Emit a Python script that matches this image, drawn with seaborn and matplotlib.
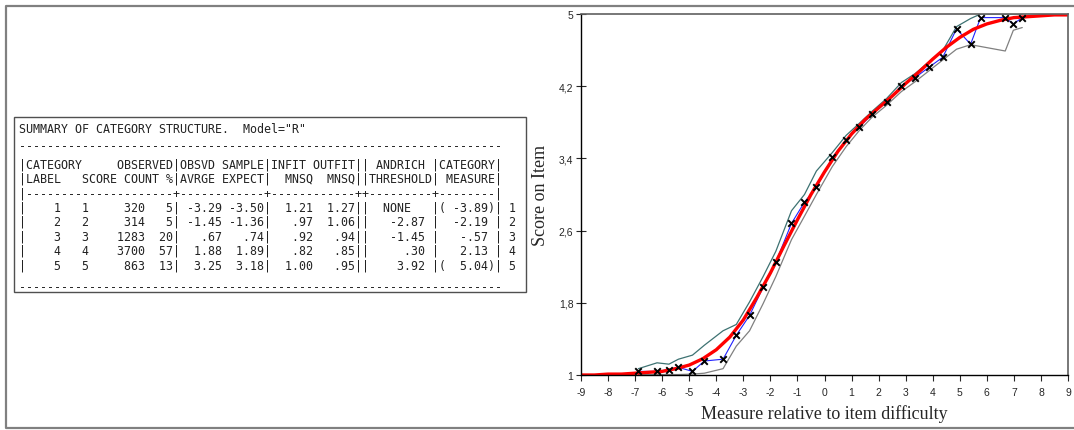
import matplotlib
matplotlib.use('Agg')
import matplotlib.pyplot as plt
import matplotlib.patches as mpatches
import pandas as pd
import seaborn as sns

# ---------------- data ----------------
table_lines = [
    'SUMMARY OF CATEGORY STRUCTURE.  Model="R"',
    '-' * 69,
    '|CATEGORY     OBSERVED|OBSVD SAMPLE|INFIT OUTFIT|| ANDRICH |CATEGORY|',
    '|LABEL   SCORE COUNT %|AVRGE EXPECT|  MNSQ  MNSQ||THRESHOLD| MEASURE|',
    '|' + '-' * 21 + '+' + '-' * 12 + '+' + '-' * 12 + '++' + '-' * 9 + '+' + '-' * 8 + '|',
    '|    1   1     320   5| -3.29 -3.50|  1.21  1.27||  NONE   |( -3.89)| 1',
    '|    2   2     314   5| -1.45 -1.36|   .97  1.06||   -2.87 |  -2.19 | 2',
    '|    3   3    1283  20|   .67   .74|   .92   .94||   -1.45 |   -.57 | 3',
    '|    4   4    3700  57|  1.88  1.89|   .82   .85||     .30 |   2.13 | 4',
    '|    5   5     863  13|  3.25  3.18|  1.00   .95||    3.92 |(  5.04)| 5',
    '-' * 69,
]
line_y = [130, 147, 165, 179, 194, 208, 222, 237, 251, 266, 288]

# model expected score curve (red)
model_x = [-9, -8.5, -8, -7.5, -7, -6.5, -6, -5.5, -5, -4.5, -4, -3.5, -3, -2.5, -2, -1.5,
           -1, -0.5, 0, 0.5, 1, 1.5, 2, 2.5, 3, 3.5, 4, 4.5, 5, 5.5, 6, 6.5, 7, 7.5, 8, 8.5, 9]
model_y = [1.00, 1.00, 1.01, 1.01, 1.02, 1.03, 1.04, 1.07, 1.11, 1.18, 1.28, 1.42, 1.61, 1.86,
           2.13, 2.43, 2.72, 3.00, 3.25, 3.48, 3.67, 3.83, 3.96, 4.09, 4.23, 4.36, 4.50, 4.63,
           4.74, 4.83, 4.89, 4.93, 4.96, 4.97, 4.98, 4.99, 4.99]

# empirical points (x markers, blue line)
obs_x = [-6.88, -6.19, -5.75, -5.40, -4.88, -4.44, -3.75, -3.26, -2.77, -2.27, -1.80, -1.22,
         -0.74, -0.30, 0.29, 0.80, 1.29, 1.77, 2.30, 2.84, 3.35, 3.86, 4.37, 4.88, 5.40, 5.77,
         6.68, 6.98, 7.31]
obs_y = [1.04, 1.04, 1.06, 1.085, 1.04, 1.155, 1.175, 1.44, 1.66, 1.97, 2.25, 2.68, 2.915, 3.08,
         3.41, 3.60, 3.75, 3.89, 4.03, 4.205, 4.295, 4.41, 4.52, 4.835, 4.665, 4.96, 4.96, 4.89,
         4.96]

# confidence band lines
upper_y = [1.07, 1.135, 1.12, 1.175, 1.22, 1.33, 1.49, 1.56, 1.81, 2.09, 2.37, 2.82, 3.00, 3.26,
           3.465, 3.655, 3.79, 3.925, 4.065, 4.24, 4.34, 4.47, 4.595, 4.86, 4.95, 5.0, 5.0, 5.0,
           5.0]
lower_y = [1.005, 1.005, 1.005, 1.005, 1.01, 1.02, 1.07, 1.32, 1.49, 1.79, 2.09, 2.50, 2.76, 3.00,
           3.31, 3.53, 3.71, 3.86, 3.99, 4.14, 4.25, 4.37, 4.49, 4.61, 4.66, 4.64, 4.59, 4.82,
           4.85]

x_ticks = list(range(-9, 10))
y_ticks = [1, 1.8, 2.6, 3.4, 4.2, 5]
y_tick_labels = ['1', '1,8', '2,6', '3,4', '4,2', '5']

# ---------------- figure ----------------
sns.set_style('white')
plt.rcParams['font.family'] = ['Liberation Sans', 'DejaVu Sans']
plt.rcParams['axes.unicode_minus'] = False

W, H = 1074, 431
fig = plt.figure(figsize=(W / 100, H / 100), dpi=100)

# pixel overlay for frame + text table
bg = fig.add_axes([0, 0, 1, 1], zorder=-1)
bg.set_xlim(0, W)
bg.set_ylim(H, 0)
bg.axis('off')
bg.plot([1080, 6, 6, 1080], [7, 7, 429, 429], color='#808080', lw=1.6, solid_capstyle='butt')
bg.add_patch(mpatches.Rectangle((14, 118), 512, 175, fill=False, ec='#505050', lw=1))
for txt, yy in zip(table_lines, line_y):
    bg.text(19, yy, txt, family='DejaVu Sans Mono', fontsize=8.37, va='center', ha='left',
            color='#222222')

# chart
ax = fig.add_axes([581 / W, 1 - 376 / H, (1068 - 581) / W, (376 - 15) / H])
bands = pd.DataFrame({'x': obs_x, 'obs': obs_y, 'upper': upper_y, 'lower': lower_y})
model = pd.DataFrame({'x': model_x, 'y': model_y})

sns.lineplot(data=bands, x='x', y='lower', ax=ax, color='#808080', lw=0.9, sort=False,
             estimator=None)
sns.lineplot(data=bands, x='x', y='upper', ax=ax, color='#3d7272', lw=0.9, sort=False,
             estimator=None)
sns.lineplot(data=bands, x='x', y='obs', ax=ax, color='#2020ff', lw=0.8, sort=False,
             estimator=None)
sns.lineplot(data=model, x='x', y='y', ax=ax, color='#ff0000', lw=2.4, sort=False,
             estimator=None)
sns.scatterplot(data=bands, x='x', y='obs', ax=ax, marker='x', color='black', s=22,
                linewidth=1.4, zorder=5)

ax.set_xlim(-9, 9)
ax.set_ylim(1, 5)
ax.set_xticks(x_ticks)
ax.set_yticks(y_ticks)
ax.set_yticklabels(y_tick_labels)
ax.tick_params(axis='x', direction='out', length=4, width=0.8, labelsize=7.5, pad=5,
               bottom=True)
ax.tick_params(axis='y', direction='inout', length=7, width=0.8, labelsize=7.5, pad=2,
               left=True)
for s in ['left', 'bottom']:
    ax.spines[s].set_color('black')
    ax.spines[s].set_linewidth(1)
for s in ['top', 'right']:
    ax.spines[s].set_color('#606060')
    ax.spines[s].set_linewidth(1.2)

ax.set_xlabel('Measure relative to item difficulty', family='Liberation Serif', fontsize=13)
ax.set_ylabel('Score on Item', family='Liberation Serif', fontsize=13)
ax.xaxis.set_label_coords(0.5, -0.08)
ax.yaxis.set_label_coords(-0.066, 0.5)

fig.savefig('out.png', dpi=100)
